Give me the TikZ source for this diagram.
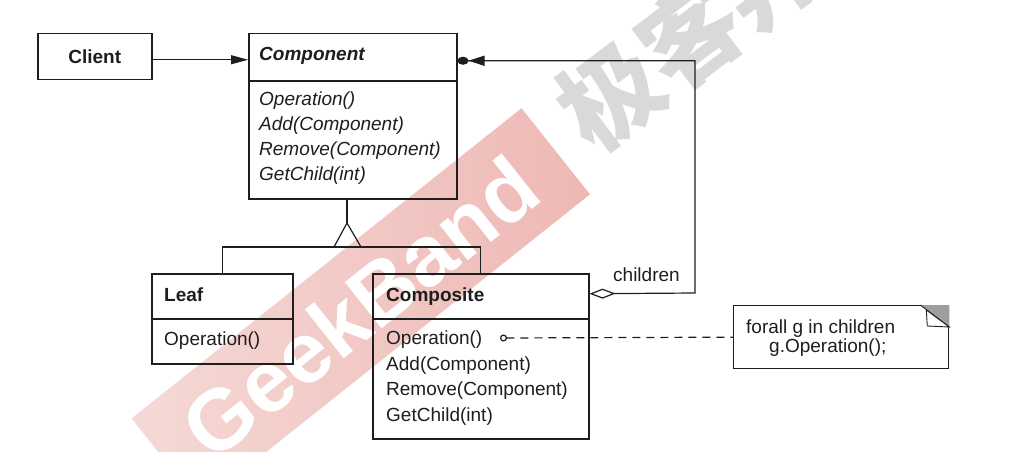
\documentclass[tikz,border=0pt]{standalone}
\usepackage{fontspec}
\setmainfont{Liberation Sans}
\newfontfamily\cjk{Noto Sans CJK SC}
\usetikzlibrary{arrows.meta}
\definecolor{wmpinkA}{RGB}{245,217,214}
\definecolor{wmpinkB}{RGB}{238,184,180}
\definecolor{ink}{RGB}{30,30,30}
\begin{document}
\begin{tikzpicture}[x=1pt,y=-1pt,
  box/.style={draw=ink, line width=1.5pt, inner sep=0pt, anchor=north west},
  ln/.style={anchor=base west, inner sep=0pt, text=ink, font=\fontsize{19}{25}\selectfont},
  conn/.style={draw=ink, line width=1.2pt}]
\useasboundingbox (0,0) rectangle (1028,452);
% watermark
\begin{scope}
\clip (0,0) rectangle (1028,452);
\shade[left color=wmpinkA, right color=wmpinkB] (521.5,108.2) -- (590,194.3) -- (200.1,504.6) -- (131.5,418.4) -- cycle;
\node[rotate=38.5, text=white, inner sep=0pt, font=\fontsize{86}{86}\selectfont\bfseries] (wmtext) at (360,307) {GeekBand};
\node[rotate=37, text=black!15, inner sep=0pt, font=\cjk\fontsize{100}{100}\selectfont\bfseries] (wmcjk) at (690,35) {极客邦};
\end{scope}
% classes
\node[box, minimum width=114pt, minimum height=46pt, text=ink, font=\fontsize{19}{25}\selectfont\bfseries] (client) at (37,33) {Client};
\node[box, minimum width=208pt, minimum height=47pt] (cmph) at (248,33) {};
\node[box, minimum width=208pt, minimum height=118pt] (cmpb) at (248,80) {};
\node[ln] (cmpt) at (259,61) {\bfseries\itshape Component};
\node[ln] (cmp1) at (259,105.5) {\itshape Operation()};
\node[ln] (cmp2) at (259,130.5) {\itshape Add(Component)};
\node[ln] (cmp3) at (259,155.5) {\itshape Remove(Component)};
\node[ln] (cmp4) at (259,180.5) {\itshape GetChild(int)};
\node[box, minimum width=141pt, minimum height=45pt] (leafh) at (151,273) {};
\node[box, minimum width=141pt, minimum height=45pt] (leafb) at (151,318) {};
\node[ln] (leaft) at (164,301) {\bfseries Leaf};
\node[ln] (leaf1) at (164,345) {Operation()};
\node[box, minimum width=216pt, minimum height=45pt] (cpsh) at (372,273) {};
\node[box, minimum width=216pt, minimum height=120pt] (cpsb) at (372,318) {};
\node[ln] (cpst) at (386,301) {\bfseries Composite};
\node[ln] (cps1) at (386,344.5) {Operation()};
\node[ln] (cps2) at (386,370) {Add(Component)};
\node[ln] (cps3) at (386,395.5) {Remove(Component)};
\node[ln] (cps4) at (386,421) {GetChild(int)};
% note
\node[box, line width=1.3pt, minimum width=215pt, minimum height=63pt] (note) at (733,305) {};
\fill[black!38] (note.north east) -- ([xshift=-29pt]note.north east) -- ([yshift=-22pt]note.north east) -- cycle;
\draw[ink, line width=0.9pt] ([xshift=-29pt]note.north east) -- ([yshift=-22pt]note.north east);
\draw[ink, line width=0.9pt, fill=white] ([xshift=-23pt,yshift=-5pt]note.north east) -- ([xshift=-22pt,yshift=-21pt]note.north east) -- ([yshift=-22pt]note.north east) -- cycle;
\node[ln] (note1) at (746,333) {forall g in children};
\node[ln] (note2) at (769,352) {g.Operation();};
% connectors
\draw[conn, -{Triangle[length=17pt,width=9pt]}] ([yshift=-3pt]client.east) -- ([yshift=-3pt]client.east -| cmph.west);
\coordinate (rt) at (695,293);
\draw[conn, {Diamond[open,length=26pt,width=10pt,fill=white]}-{Triangle[length=16pt,width=10pt]Ellipse[length=11pt,width=8pt]}] ([yshift=2.5pt]cpsh.east) -- (rt) |- ([yshift=-3.5pt]cmph.east);
\node[ln] (chl) at (613,281) {children};
\coordinate (apex) at (347,223);
\coordinate (bar) at (347,247);
\draw[conn] (cmpb.south -| apex) -- (apex);
\draw[conn] (apex) -- ([xshift=-13pt]bar) -- ([xshift=14pt]bar) -- cycle;
\draw[conn] (leafh.north) |- (bar) -| (cpsh.north);
\coordinate (opdot) at (500,338);
\draw[conn, dash pattern=on 8pt off 6pt, {Circle[open,length=7pt,width=7pt,fill=white]}-] (opdot) -- (note.west);
\end{tikzpicture}
\end{document}
